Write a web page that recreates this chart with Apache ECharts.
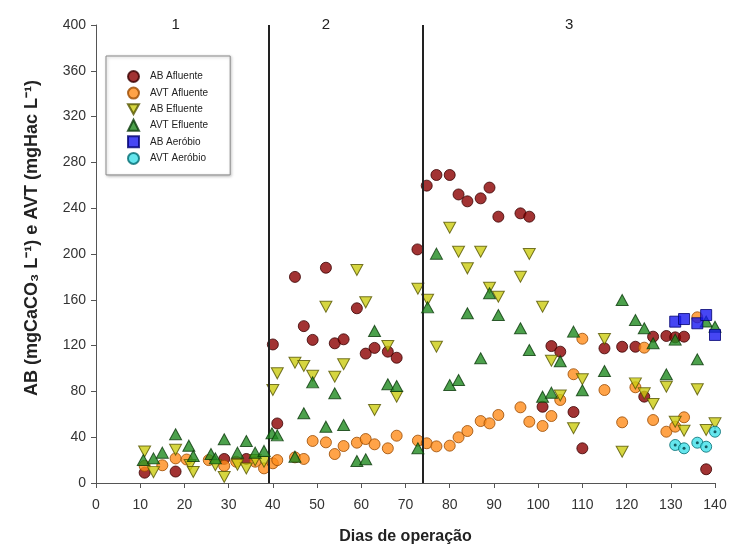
<!DOCTYPE html>
<html>
<head>
<meta charset="utf-8">
<script src="https://cdn.jsdelivr.net/npm/echarts@6/dist/echarts.min.js"></script>
<style>
html,body{margin:0;padding:0;background:#fff;}
#main{width:731px;height:550px;}
</style>
</head>
<body>
<div id="main"></div>
<script>
// ---- Data ----
var abAflDays = [11,18,29,34,40,41,45,47,49,52,54,56,59,61,63,66,68,72.7,74.8,77,80,82,84,87,89,91,96,98,101,103,105,108,110,115,119,122,124,126,129,131,133,138];
var abAflVals = [9,10,21,21,121,52,180,137,125,188,122,125.5,152.6,113,118,114.7,109.4,204,259.7,269,269,252,246,248.6,258,232.6,235.5,232.6,66.6,119.6,114.7,62,30.3,117.6,119,119,75.4,127.8,128.4,127.2,127.8,12];

var avtAflDays = [11,15,18,20.5,25.5,29,31.7,36,38,40,41,45,47,49,52,54,56,59,61,63,66,68,72.8,74.8,77,80,82,84,87,89,91,96,98,101,103,105,108,110,115,119,122,124,126,129,131,133,136];
var avtAflVals = [15,15.5,21.5,20.5,20,15,18.6,18.6,12.8,17.2,20,22.4,21,36.7,35.5,25.3,32.3,35.2,38.4,33.8,30.3,41.3,37,34.7,32,32.6,39.9,45.4,54.1,52.1,59.4,66.1,53.5,49.8,58.5,72.5,95,126,81.2,53,83.6,118.2,55,44.8,49.2,57.4,144.7];

var abEflDays = [11,13,18,21.3,22,27,29,32,34,36,38,40,41,45,47,49,52,54,56,59,61,63,66,68,72.8,75,77,80,82,84,87,89,91,96,98,101,103,105,108,110,115,119,122,124,126,129,131,133,136,138,140];
var abEflVals = [27.5,9.5,29,15.7,9.6,15.5,5.2,16,12.7,20,18.6,81.2,95.8,105,102.2,93.7,154,92.8,103.7,186,157.8,63.8,119.7,75.4,169.7,160,119,223,202,187.5,202,170.6,162.7,180.2,200,154,106.8,76.5,47.8,90.6,125.8,27.3,87,78.3,69,84.1,53.5,45.7,81.8,46.3,52.1];

var avtEflDays = [10.7,13,15,18,21,22,26,27,29,32,34,36,38,39.8,41,45,47,49,52,54,56,59,61,63,66,68,72.8,75,77,80,82,84,87,89,91,96,98,101,103,105,108,110,115,119,122,124,126,129,131,136,138,140];
var avtEflVals = [20,21.5,26.5,42.5,32.6,23.6,25.3,21.5,38.2,26.5,36.7,26.5,28,43.4,41.6,23,60.9,87.9,49.2,78.3,50.7,19.2,20.7,132.8,86.2,84.7,30.3,153.4,200.3,85.6,90,148.2,108.9,165.7,146.7,135.1,116.2,75.4,78.9,106.4,132.2,81,97.8,159.8,142.4,135.1,122,94.9,125.2,108,141,136.5];

var abAerDays = [131,133,136,138,140];
var abAerVals = [140.9,143.2,139.5,146.7,129.3];

var avtAerDays = [131,133,136,138,140];
var avtAerVals = [33.2,30.3,35.2,31.7,44.8];

var phaseDividers = [39, 74];
var phaseLabels = ['1','2','3'];
var phaseLabelDays = [18, 52, 107];

var xTicks = {min:0, max:140, step:10};
var yTicks = {min:0, max:400, step:40};

var yTitle = 'AB (mgCaCO\u2083 L\u207B\u00B9) e AVT (mgHac L\u207B\u00B9)';
var xTitle = 'Dias de operação';

function pairs(xs, ys){ return xs.map(function(x,i){ return [x, ys[i]]; }); }

var FONT = '"Liberation Sans", Arial, sans-serif';
var downTri = 'path://M0,0 L10,0 L5,9 Z';

var chart = echarts.init(document.getElementById('main'), null, {renderer:'canvas'});

var option = {
  animation:false,
  backgroundColor:'#ffffff',
  grid:{left:96, right:16, top:25, bottom:67, containLabel:false, outerBoundsMode:'none'},
  legend:{
    orient:'vertical', left:106, top:56,
    data:['AB Afluente','AVT Afluente','AB Efluente','AVT Efluente','AB Aeróbio','AVT Aeróbio'],
    itemWidth:11, itemHeight:11, itemGap:3.6,
    padding:[14,22,10,21],
    backgroundColor:'#ffffff', borderColor:'#8a8a8a', borderWidth:1,
    shadowColor:'rgba(0,0,0,0.25)', shadowBlur:3, shadowOffsetX:1, shadowOffsetY:1,
    textStyle:{fontFamily:FONT, fontSize:10, color:'#222', padding:[0,0,0,6]}
  },
  xAxis:{
    type:'value', min:xTicks.min, max:xTicks.max, interval:xTicks.step,
    name:xTitle, nameLocation:'middle', nameGap:46,
    nameTextStyle:{fontFamily:FONT, fontSize:16, fontWeight:'bold', color:'#222'},
    axisLine:{show:true, onZero:false, lineStyle:{color:'#555', width:1}},
    axisTick:{show:true, length:5, lineStyle:{color:'#555'}},
    axisLabel:{fontFamily:FONT, fontSize:14, color:'#333', margin:15},
    splitLine:{show:false}
  },
  yAxis:{
    type:'value', min:yTicks.min, max:yTicks.max, interval:yTicks.step,
    axisLine:{show:true, onZero:false, lineStyle:{color:'#555', width:1}},
    axisTick:{show:true, length:5, lineStyle:{color:'#555'}},
    axisLabel:{fontFamily:FONT, fontSize:14, color:'#333', margin:10},
    splitLine:{show:false}
  },
  series:[
    {name:'AB Afluente', type:'scatter', symbol:'circle', symbolSize:11, z:2,
     itemStyle:{color:'#8b0000', borderColor:'#3a0000', borderWidth:1},
     data:pairs(abAflDays, abAflVals),
     markLine:{silent:true, symbol:['none','none'], label:{show:false},
       lineStyle:{color:'#222', width:2, type:'solid'},
       data:phaseDividers.map(function(d){ return {xAxis:d}; })}
    },
    {name:'AVT Afluente', type:'scatter', symbol:'circle', symbolSize:11, z:3,
     itemStyle:{color:'#ff8c1a', borderColor:'#9a4a00', borderWidth:1},
     data:pairs(avtAflDays, avtAflVals)},
    {name:'AB Efluente', type:'scatter', symbol:downTri, symbolSize:[12,11], z:4,
     itemStyle:{color:'#cccc10', borderColor:'#555500', borderWidth:1},
     data:pairs(abEflDays, abEflVals)},
    {name:'AVT Efluente', type:'scatter', symbol:'triangle', symbolSize:[12,11], z:5,
     itemStyle:{color:'#1f8a1f', borderColor:'#0a3a0a', borderWidth:1},
     data:pairs(avtEflDays, avtEflVals)},
    {name:'AB Aeróbio', type:'scatter', symbol:'rect', symbolSize:11, z:6,
     itemStyle:{color:'#1818f0', borderColor:'#000070', borderWidth:1},
     data:pairs(abAerDays, abAerVals)},
    {name:'AVT Aeróbio', type:'scatter', symbol:'circle', symbolSize:11, z:7,
     itemStyle:{color:'#3ee0e8', borderColor:'#006a70', borderWidth:1},
     data:pairs(avtAerDays, avtAerVals)},
    {name:'_avtAerDot', type:'scatter', symbol:'circle', symbolSize:3, z:8, silent:true,
     itemStyle:{color:'#003a40'},
     data:pairs(avtAerDays, avtAerVals)}
  ]
};
chart.setOption(option);

var graphics = phaseLabels.map(function(t, i){
  var px = chart.convertToPixel({xAxisIndex:0}, phaseLabelDays[i]);
  var py = chart.convertToPixel({yAxisIndex:0}, yTicks.max);
  return {type:'text', x:px, y:py,
    style:{text:t, fontFamily:FONT, fontSize:15, fill:'#222', align:'center', verticalAlign:'middle'}};
});
graphics.push({type:'text', x:32, y:238, rotation:Math.PI/2,
  style:{text:yTitle, fontFamily:FONT, fontSize:18, fontWeight:'bold', fill:'#222', align:'center', verticalAlign:'middle'}});
chart.setOption({graphic:graphics});
</script>
</body>
</html>
